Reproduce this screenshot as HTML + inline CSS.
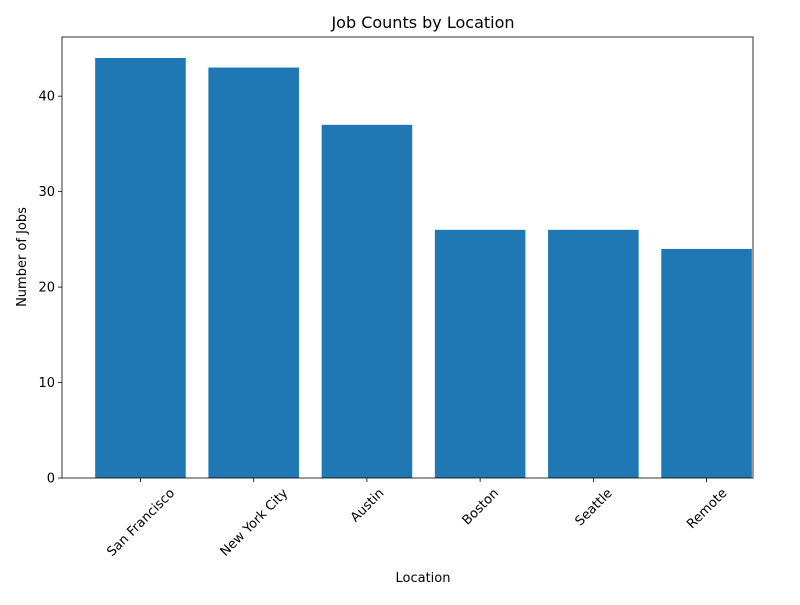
<!DOCTYPE html>
<html><head><meta charset="utf-8"><style>
body{margin:0;background:#fff;}
svg{font-family:"DejaVu Sans","Liberation Sans",sans-serif;}
</style></head><body>
<svg id="chart" width="800" height="600">
<rect width="800" height="600" fill="#fff"/>
<text x="423" y="28" font-size="16" text-anchor="middle">Job Counts by Location</text>
<g id="plot"></g>
<text x="423" y="582" font-size="13" text-anchor="middle">Location</text>
<text transform="translate(26,257) rotate(-90)" font-size="13" text-anchor="middle">Number of Jobs</text>
</svg>
<script>
const categories=["San Francisco","New York City","Austin","Boston","Seattle","Remote"];
const values=[44,43,37,26,26,24];
const yTicks=[0,10,20,30,40];
const L=62,R=753,T=37,B=478;
const yMax=Math.max(...values)*1.05;
const xMin=-0.693,xMax=categories.length-1+0.41;
const xs=v=>L+(v-xMin)/(xMax-xMin)*(R-L);
const ys=v=>B-v/yMax*(B-T);
const g=document.getElementById('plot');
const NS="http://www.w3.org/2000/svg";
function mk(t,a){const e=document.createElementNS(NS,t);for(const k in a)e.setAttribute(k,a[k]);g.appendChild(e);return e;}
values.forEach((v,i)=>{
  const r=mk('rect',{x:xs(i-0.4),y:ys(v),width:xs(i+0.4)-xs(i-0.4),height:ys(0)-ys(v),fill:'#1f77b4'});
  
  
  const x=xs(i);
  const tk=mk('line',{x1:x,x2:x,y1:B,y2:B+4,stroke:'#000','stroke-width':0.8});
  
  
  const t=mk('text',{x:0,y:4.5,'font-size':13,'text-anchor':'middle'});
  t.textContent=categories[i];
  
  
  const w=t.getComputedTextLength(),h=13;
  const half=(w*0.7071+h*0.7071)/2;
  t.setAttribute('transform',`translate(${x},${B+8+half}) rotate(-45)`);
});
yTicks.forEach(v=>{
  const y=ys(v);
  const tk=mk('line',{x1:L-4,x2:L,y1:y,y2:y,stroke:'#000','stroke-width':0.8});
  
  
  const t=mk('text',{x:L-7,y:y+4.5,'font-size':13,'text-anchor':'end'});
  t.textContent=v;
  
  
});
const f=mk('rect',{x:L,y:T,width:R-L,height:B-T,fill:'none',stroke:'#000','stroke-width':0.8});


</script>
</body></html>
